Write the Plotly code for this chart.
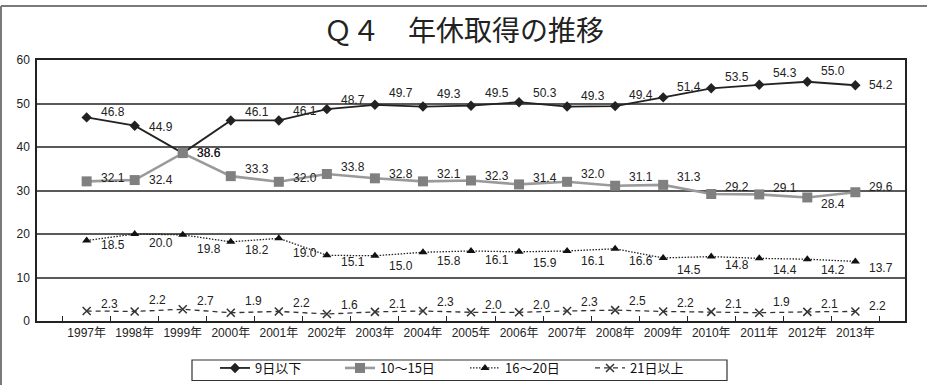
import plotly.graph_objects as go

# ---- data -------------------------------------------------------------
years = ["1997年", "1998年", "1999年", "2000年", "2001年", "2002年", "2003年",
         "2004年", "2005年", "2006年", "2007年", "2008年", "2009年", "2010年",
         "2011年", "2012年", "2013年"]

under_9 = [46.8, 44.9, 38.6, 46.1, 46.1, 48.7, 49.7, 49.3, 49.5, 50.3, 49.3,
           49.4, 51.4, 53.5, 54.3, 55.0, 54.2]
days_10_15 = [32.1, 32.4, 38.6, 33.3, 32.0, 33.8, 32.8, 32.1, 32.3, 31.4, 32.0,
              31.1, 31.3, 29.2, 29.1, 28.4, 29.6]
days_16_20 = [18.5, 20.0, 19.8, 18.2, 19.0, 15.1, 15.0, 15.8, 16.1, 15.9, 16.1,
              16.6, 14.5, 14.8, 14.4, 14.2, 13.7]
over_21 = [2.3, 2.2, 2.7, 1.9, 2.2, 1.6, 2.1, 2.3, 2.0, 2.0, 2.3, 2.5, 2.2,
           2.1, 1.9, 2.1, 2.2]

series_names = ["9日以下", "10～15日", "16～20日", "21日以上"]
y_ticks = [0, 10, 20, 30, 40, 50, 60]

# ---- styling ------------------------------------------------------------
NUM_FONT = "Arial, Liberation Sans, Noto Sans CJK JP"
JP_FONT = "Noto Sans CJK JP, Arial"

styles = [
    dict(line=dict(color="#222222", width=1.8),
         marker=dict(symbol="diamond", size=8, color="#222222")),
    dict(line=dict(color="#9a9a9a", width=2.6),
         marker=dict(symbol="square", size=10, color="#808080")),
    dict(line=dict(color="#222222", width=1.3, dash="1.5px,1.5px"),
         marker=dict(symbol="triangle-up", size=8, color="#111111")),
    dict(line=dict(color="#333333", width=1.3, dash="5px,4px"),
         marker=dict(symbol="x-thin", size=8, color="#333333",
                     line=dict(width=1.5, color="#333333"))),
]

# vertical offset (px, up is positive) of each value label from its point
label_dy = [
    [5, -1, 0, 8, 9, 9, 12, 13, 13, 9, 11, 11, 10, 11, 12, 11, 0],
    [3, 0, 0, 7, 4, 7, 4, 7, 5, 6, 8, 9, 8, 7, 6, -7, 5],
    [-4, -9, -14, -8, -15, -7, -10, -9, -9, -11, -10, -12, -12, -8, -12, -11, -7],
    [7, 11, 8, 12, 8, 9, 8, 9, 7, 7, 9, 9, 8, 8, 11, 8, 5],
]
label_dx = 12

all_series = [under_9, days_10_15, days_16_20, over_21]

fig = go.Figure()
for name, vals, st in zip(series_names, all_series, styles):
    fig.add_trace(go.Scatter(
        x=years, y=vals, name=name, mode="lines+markers",
        line=st["line"], marker=st["marker"], cliponaxis=False,
    ))

annotations = []
for vals, dys in zip(all_series, label_dy):
    for yr, v, dy in zip(years, vals, dys):
        annotations.append(dict(
            x=yr, y=v, text=f"{v:.1f}", showarrow=False,
            xanchor="left", yanchor="middle", xshift=label_dx, yshift=dy,
            font=dict(family=NUM_FONT, size=12, color="#222222"),
        ))

# page geometry
L, R, T, B = 37, 23, 60, 64
W, H = 928, 385
pw, ph = W - L - R, H - T - B


def px_x(p):
    return (p - L) / pw


def px_y(p):
    return (H - B - p) / ph


shapes = [
    # outer frame (top and left edges)
    dict(type="line", xref="paper", yref="paper", x0=px_x(1), x1=px_x(927),
         y0=px_y(6), y1=px_y(6), line=dict(color="#7a7a7a", width=2)),
    dict(type="line", xref="paper", yref="paper", x0=px_x(1), x1=px_x(1),
         y0=px_y(6), y1=px_y(390), line=dict(color="#7a7a7a", width=2)),
    # legend box
    dict(type="rect", xref="paper", yref="paper", x0=px_x(192), x1=px_x(727),
         y0=px_y(360), y1=px_y(380.5), line=dict(color="#333333", width=1.2),
         fillcolor="rgba(0,0,0,0)"),
]

fig.update_layout(
    width=W, height=H,
    margin=dict(l=L, r=R, t=T, b=B, autoexpand=False),
    paper_bgcolor="white", plot_bgcolor="white",
    title=dict(text="Ｑ４　年休取得の推移", x=0.5, xanchor="center",
               y=1 - 31 / H, yanchor="middle",
               font=dict(family=JP_FONT, size=28, color="#222222")),
    showlegend=True,
    legend=dict(orientation="h", x=px_x(465), xanchor="center",
                y=px_y(353), yanchor="top",
                bgcolor="rgba(0,0,0,0)", borderwidth=0,
                font=dict(family=JP_FONT, size=13, color="#111111"),
                entrywidth=80, entrywidthmode="pixels",
                itemwidth=30, tracegroupgap=0),
    annotations=annotations,
    shapes=shapes,
    font=dict(family=NUM_FONT, color="#222222"),
)

fig.update_xaxes(
    type="category", categoryorder="array", categoryarray=years,
    showline=True, linecolor="#222222", linewidth=1.5, mirror=True,
    ticks="inside", tickson="boundaries", ticklen=5, tickcolor="#222222",
    showgrid=False, tickfont=dict(family=NUM_FONT, size=12, color="#222222"),
)
fig.update_yaxes(
    range=[0, 60], tickvals=y_ticks, showgrid=True, gridcolor="#5a5a5a",
    gridwidth=2, showline=True, linecolor="#222222", linewidth=1.5,
    mirror=True, zeroline=False, ticks="", ticklabelstandoff=3,
    tickfont=dict(family=NUM_FONT, size=12, color="#222222"),
)

fig.write_html("out.html")
